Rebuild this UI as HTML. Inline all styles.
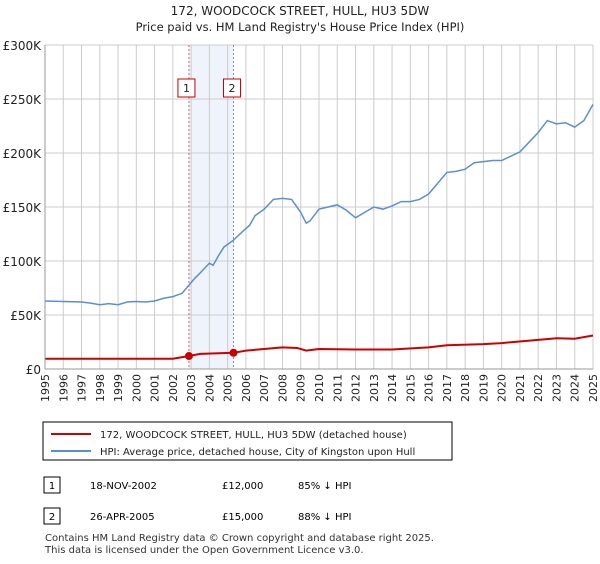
<!DOCTYPE html>
<html><head><meta charset="utf-8"><style>
body{margin:0;background:#fff;font-family:"DejaVu Sans",sans-serif;}
svg text{font-family:"DejaVu Sans","Liberation Sans",sans-serif;}
</style></head><body>
<svg id="chart" width="600" height="560" xmlns="http://www.w3.org/2000/svg">
<text x="300" y="15" text-anchor="middle" font-size="12" fill="#222">172, WOODCOCK STREET, HULL, HU3 5DW</text>
<text x="300" y="31" text-anchor="middle" font-size="11.5" fill="#222">Price paid vs. HM Land Registry's House Price Index (HPI)</text>
<g id="grid"></g><g id="marks"></g><g id="axes"></g>
<rect x="43" y="422" width="409" height="38" fill="#fff" stroke="#000"/>
<line x1="51" y1="434" x2="91" y2="434" stroke="#cc0000" stroke-width="2"/>
<text x="100" y="438" font-size="10" fill="#222">172, WOODCOCK STREET, HULL, HU3 5DW (detached house)</text>
<line x1="51" y1="451" x2="91" y2="451" stroke="#5b8fd4" stroke-width="2"/>
<text x="100" y="455" font-size="10" fill="#222">HPI: Average price, detached house, City of Kingston upon Hull</text>
<g>
<rect x="44" y="477" width="16" height="16" fill="#fff" stroke="#000"/><text x="52" y="489" text-anchor="middle" font-size="10">1</text>
<text x="90" y="489" font-size="10">18-NOV-2002</text><text x="222" y="489" font-size="10">£12,000</text><text x="298" y="489" font-size="10">85% ↓ HPI</text></g>
<g>
<rect x="44" y="508" width="16" height="16" fill="#fff" stroke="#000"/><text x="52" y="520" text-anchor="middle" font-size="10">2</text>
<text x="90" y="520" font-size="10">26-APR-2005</text><text x="222" y="520" font-size="10">£15,000</text><text x="298" y="520" font-size="10">88% ↓ HPI</text></g>
<text x="45" y="541" font-size="10" fill="#333">Contains HM Land Registry data © Crown copyright and database right 2025.</text>
<text x="45" y="553" font-size="10" fill="#333">This data is licensed under the Open Government Licence v3.0.</text>
</svg>
<script>
const yTicks=[0,50,100,150,200,250,300];
const yTickLabels=["£0","£50K","£100K","£150K","£200K","£250K","£300K"];
const hpiYears=[1995,1996,1997,1997.5,1998,1998.5,1999,1999.5,2000,2000.5,2001,2001.5,2002,2002.5,2002.9,2003.2,2003.5,2004,2004.2,2004.5,2004.8,2005.3,2005.8,2006.2,2006.5,2007,2007.5,2008,2008.5,2009,2009.3,2009.5,2010,2010.5,2011,2011.5,2012,2012.5,2013,2013.5,2014,2014.5,2015,2015.5,2016,2016.5,2017,2017.5,2018,2018.5,2019,2019.5,2020,2020.5,2021,2021.5,2022,2022.5,2023,2023.5,2024,2024.5,2025];
const hpiValues=[63,62.5,62,61,59.5,60.5,59.5,62,62.5,62,63,65.5,67,70,78,84,89,98,96,105,113,119,127,133,142,148,157,158,157,145,135,137,148,150,152,147,140,145,150,148,151,155,155,157,162,172,182,183,185,191,192,193,193,197,201,210,219,230,227,228,224,230,245];
const priceYears=[1995,2002,2002.88,2003.5,2005.32,2006,2008,2008.8,2009.3,2010,2012,2014,2016,2017,2019,2020,2022,2023,2024,2025];
const priceValues=[9.5,9.5,12,14,15,17,20,19.5,17,18.5,18,18,20,22,23,24,27,28.5,28,31];
const saleYears=[2002.88,2005.32];
const saleValues=[12,15];
const saleLabels=["1","2"];
const x0=45,x1=593,y0=369,y1=45;
const X=t=>x0+(t-1995)/30*(x1-x0);
const Y=v=>y0-v/300*(y0-y1);
const NS="http://www.w3.org/2000/svg";
function mk(p,tag,a){const e=document.createElementNS(NS,tag);for(const k in a)e.setAttribute(k,a[k]);p.appendChild(e);return e;}
const grid=document.getElementById('grid'),marks=document.getElementById('marks'),axes=document.getElementById('axes');
mk(grid,'rect',{x:X(saleYears[0]),y:y1,width:X(saleYears[1])-X(saleYears[0]),height:y0-y1,fill:'#eef3fc'});
for(let yr=1995;yr<=2025;yr++){
 const l=mk(grid,'line',{x1:X(yr),x2:X(yr),y1:y1,y2:y0,stroke:'#ccc'});
 
 
 const t=mk(axes,'text',{x:0,y:0,'font-size':11,fill:'#222','text-anchor':'end',transform:`translate(${X(yr)+4},374) rotate(-90)`});
 t.textContent=yr;
 
 
}
yTicks.forEach((v,i)=>{
 const l=mk(grid,'line',{x1:x0,x2:x1,y1:Y(v),y2:Y(v),stroke:'#ccc'});
 
 
 const t=mk(axes,'text',{x:41,y:Y(v)+5,'font-size':12,fill:'#222','text-anchor':'end'});
 t.textContent=yTickLabels[i];
 
 
});
saleYears.forEach((s,i)=>{
 const l=mk(marks,'line',{x1:X(s),x2:X(s),y1:y1,y2:y0,stroke:i==0?'#e06060':'#7a8fd0','stroke-dasharray':'2,2'});
 
 
 const b=mk(marks,'rect',{x:X(s)-(i==0?11:10),y:79,width:17,height:18,fill:'#fff',stroke:'#cc0000'});
 
 
 const t=mk(marks,'text',{x:X(s)-(i==0?2.5:1.5),y:92,'font-size':11,'text-anchor':'middle',fill:'#222'});
 t.textContent=saleLabels[i];
 
 
});
const hp=mk(marks,'polyline',{points:hpiYears.map((t,i)=>X(t)+','+Y(hpiValues[i])).join(' '),fill:'none',stroke:'#5b8fd4','stroke-width':1.5});


const pp=mk(marks,'polyline',{points:priceYears.map((t,i)=>X(t)+','+Y(priceValues[i])).join(' '),fill:'none',stroke:'#cc0000','stroke-width':2});


saleYears.forEach((s,i)=>{
 const c=mk(marks,'circle',{cx:X(s),cy:Y(saleValues[i]),r:4,fill:'#cc0000'});
 
 
});
mk(axes,'line',{x1:x0,x2:x0,y1:y1,y2:y0,stroke:'#999'});
mk(axes,'line',{x1:x0,x2:x1,y1:y0,y2:y0,stroke:'#999'});
</script>
</body></html>
